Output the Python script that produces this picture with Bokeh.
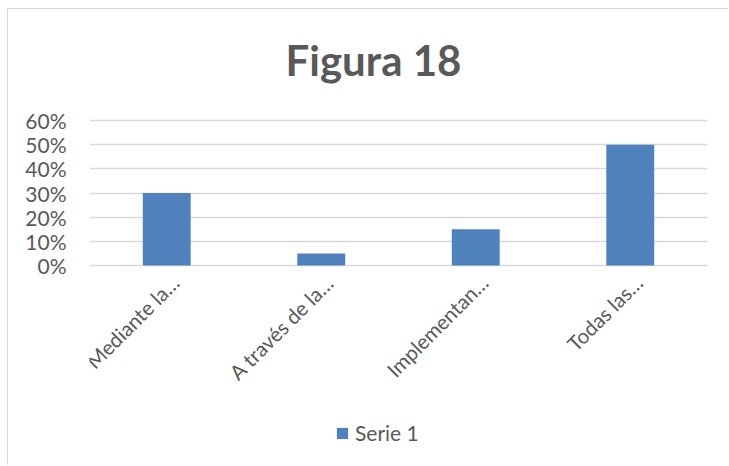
import math
from bokeh.plotting import figure
from bokeh.models import (FactorRange, Range1d, FixedTicker, NumeralTickFormatter,
                          Legend, LegendItem, ColumnDataSource, Label)
from bokeh.embed import file_html
from bokeh.resources import INLINE

categories = ["Mediante la…", "A través de la…", "Implementan…", "Todas las…"]
serie_1 = [0.30, 0.05, 0.15, 0.50]
y_ticks = [0.0, 0.1, 0.2, 0.3, 0.4, 0.5, 0.6]
title_text = "Figura 18"
series_name = "Serie 1"

FONT = "Lato"
TXT = "#595959"
GRID = "#d9d9d9"
BAR = "#4f81bd"

W, H = 721, 457
# frame spans the whole canvas height; 0.6 sits at 111px and 0 at 256px from the top
PX_TOP, PX_MAX, PX_ZERO, PX_BOT = 0, 111, 256, 446
y_max = 0.6
per_px = y_max / (PX_ZERO - PX_MAX)
y_top = y_max + per_px * (PX_MAX - PX_TOP)
y_bottom = -per_px * (PX_BOT - PX_ZERO)

p = figure(width=W, height=H, output_backend="svg", toolbar_location=None,
           x_range=FactorRange(*categories, range_padding=0),
           y_range=Range1d(y_bottom, y_top),
           min_border_left=81, min_border_right=22,
           min_border_top=PX_TOP, min_border_bottom=H - PX_BOT)
p.outline_line_color = None
p.background_fill_color = "white"
p.border_fill_color = "white"
p.styles = {"margin-left": "7px", "margin-top": "8px",
            "border-left": "1px solid #d9d9d9", "border-top": "1px solid #d9d9d9"}

# title, placed in screen pixels
p.add_layout(Label(x=196, y=396, x_units="screen", y_units="screen",
                   text=title_text, text_font=FONT, text_font_style="bold",
                   text_font_size="42px", text_color=TXT,
                   text_align="left", text_baseline="alphabetic"))

src = ColumnDataSource(dict(x=categories, top=serie_1, y0=[0] * len(categories)))
r = p.vbar(x="x", top="top", bottom=0, width=0.31, source=src,
           fill_color=BAR, line_color=None)

# category labels drawn at the baseline, rotated 45 degrees
p.text(x="x", y="y0", text="x", source=src, angle=math.pi / 4,
       text_align="right", text_baseline="top", x_offset=0, y_offset=5,
       text_font_size="20.5px", text_color=TXT,
       text_font={"value": FONT})

# axes
p.xaxis.visible = False
p.yaxis.ticker = FixedTicker(ticks=y_ticks)
p.yaxis.formatter = NumeralTickFormatter(format="0%")
p.yaxis.axis_line_color = None
p.yaxis.major_tick_line_color = None
p.yaxis.minor_tick_line_color = None
p.yaxis.major_tick_out = 0
p.yaxis.major_tick_in = 0
p.yaxis.major_label_text_font = FONT
p.yaxis.major_label_text_font_size = "21px"
p.yaxis.major_label_text_color = TXT
p.yaxis.major_label_standoff = 23

p.xgrid.grid_line_color = None
p.ygrid.grid_line_color = GRID
p.ygrid.grid_line_width = 1.5

legend = Legend(items=[LegendItem(label=series_name, renderers=[r])],
                location=(246, 10), orientation="horizontal",
                label_text_font=FONT, label_text_font_size="21px", label_text_color=TXT,
                glyph_width=14, glyph_height=14, border_line_color=None,
                background_fill_alpha=0, padding=0, margin=0, label_standoff=6)
p.add_layout(legend, "center")

open("out.html", "w").write(file_html(p, INLINE))
